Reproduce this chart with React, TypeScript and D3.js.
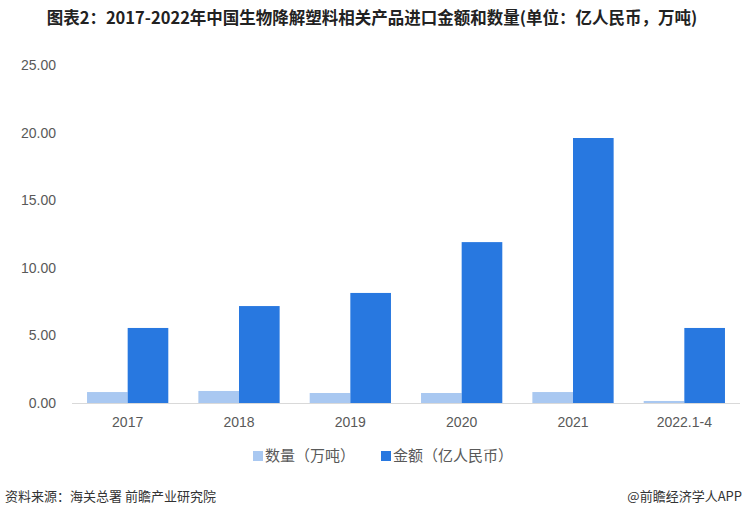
import React from "react";
import * as d3 from "d3";

const categories = ["2017", "2018", "2019", "2020", "2021", "2022.1-4"];
const quantity = [0.81, 0.89, 0.74, 0.74, 0.81, 0.15];
const amount = [5.55, 7.17, 8.14, 11.9, 19.6, 5.55];
const yTicks = [0, 5, 10, 15, 20, 25];
const seriesNames = ["数量（万吨）", "金额（亿人民币）"];
const colors = ["#A9C8F1", "#2878E0"];

const W = 745;
const H = 517;
const M = { left: 72, right: 740, top: 65, bottom: 403 };

export default function App() {
  const x = d3.scaleBand<string>().domain(categories).range([M.left, M.right]).paddingInner(0.27).paddingOuter(0.135);
  const y = d3.scaleLinear().domain([0, 25]).range([M.bottom, M.top]);
  const bw = x.bandwidth() / 2;
  const font = "'Liberation Sans', 'Noto Sans CJK SC', sans-serif";
  return (
    <svg width={W} height={H} style={{ position: "absolute", left: 0, top: 0, background: "#fff" }} fontFamily={font}>
      <rect width={W} height={H} fill="#fff" />
      <text x={372} y={24} textAnchor="middle" fontSize={16.5} fontWeight="bold" fill="#222" fontFamily="'Noto Sans CJK SC', sans-serif">
        图表2：2017-2022年中国生物降解塑料相关产品进口金额和数量(单位：亿人民币，万吨)
      </text>
      {yTicks.map((t) => (
        <text key={t} x={56} y={y(t)} dy="0.35em" textAnchor="end" fontSize={14} fill="#595959">
          {t.toFixed(2)}
        </text>
      ))}
      {categories.map((c, i) => (
        <g key={c}>
          <rect x={x(c)!} y={y(quantity[i])} width={bw} height={y(0) - y(quantity[i])} fill={colors[0]} />
          <rect x={x(c)! + bw} y={y(amount[i])} width={bw} height={y(0) - y(amount[i])} fill={colors[1]} />
          <text x={x(c)! + x.bandwidth() / 2} y={427} textAnchor="middle" fontSize={14} fill="#595959">
            {c}
          </text>
        </g>
      ))}
      <line x1={M.left} x2={M.right} y1={y(0) + 0.5} y2={y(0) + 0.5} stroke="#d9d9d9" strokeWidth={1} />
      <g fontFamily="'Noto Sans CJK SC', sans-serif" fontSize={15} fill="#595959">
        <rect x={253} y={451} width={10} height={10} fill={colors[0]} />
        <text x={265} y={461} fill="#595959">{seriesNames[0]}</text>
        <rect x={381} y={451} width={10} height={10} fill={colors[1]} />
        <text x={393} y={461} fill="#595959">{seriesNames[1]}</text>
      </g>
      <text x={5} y={501} fontSize={13} fill="#333" fontFamily="'Noto Sans CJK SC', sans-serif">
        资料来源：海关总署 前瞻产业研究院
      </text>
      <text x={742} y={501} textAnchor="end" fontSize={13} fill="#333" fontFamily="'Noto Sans CJK SC', sans-serif">
        @前瞻经济学人APP
      </text>
    </svg>
  );
}
